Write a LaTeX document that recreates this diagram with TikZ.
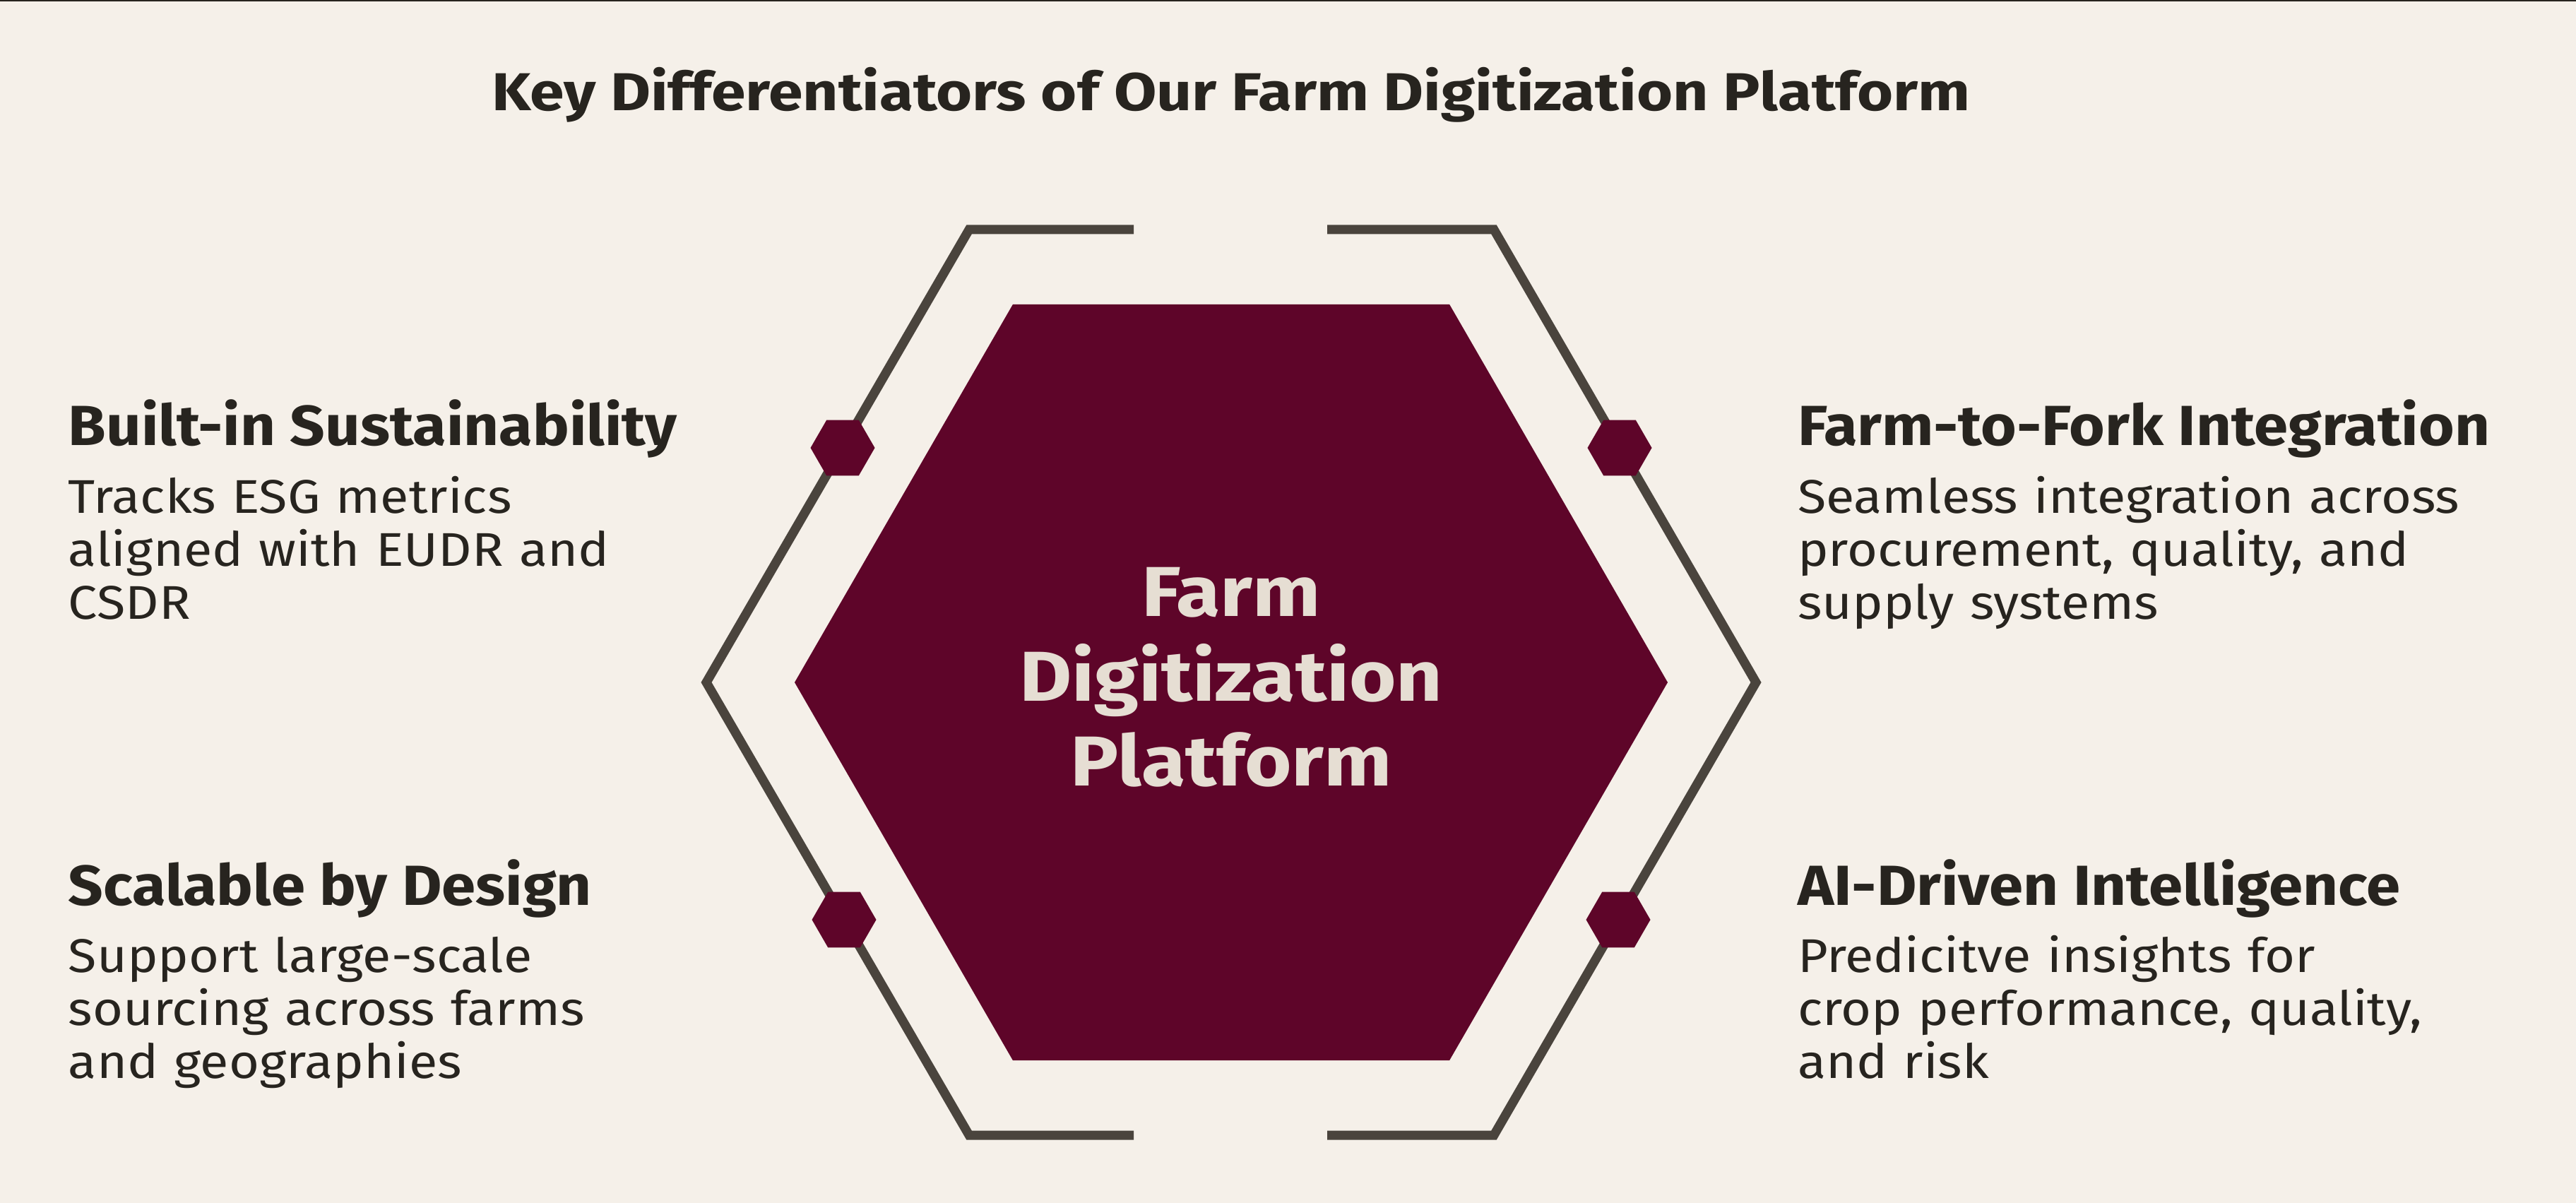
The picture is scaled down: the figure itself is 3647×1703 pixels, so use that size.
\documentclass[tikz,border=0pt]{standalone}
\usepackage{fontspec}
\setmainfont{Fira Sans}
\newfontfamily\titlefont{Fira Sans}[FakeStretch=1.16]
\newfontfamily\headfont{Fira Sans}[FakeStretch=1.085]
\newfontfamily\bodyfont{Fira Sans}[FakeStretch=1.10]
\newfontfamily\hubfont{Fira Sans}[FakeStretch=1.14]
\usetikzlibrary{shapes.geometric}

\definecolor{paper}{HTML}{F5F0E9}
\definecolor{wine}{HTML}{5E0529}
\definecolor{frameline}{HTML}{4A443D}
\definecolor{ink}{HTML}{27241F}
\definecolor{cream}{HTML}{E6DED3}

\begin{document}
\begin{tikzpicture}[x=0.2pt, y=-0.2pt,
  hexbig/.style={regular polygon, regular polygon sides=6, minimum size=247.2pt, inner sep=0pt, fill=wine},
  hexdot/.style={regular polygon, regular polygon sides=6, minimum size=18.2pt, inner sep=0pt, fill=wine},
  bracket/.style={draw=frameline, line width=2.6pt},
  headline/.style={anchor=base west, inner sep=0pt, text=ink, font=\headfont\bfseries\fontsize{16}{19}\selectfont},
  blurb/.style={anchor=base west, inner sep=0pt, text=ink, text width=240pt, align=left, font=\bodyfont\fontsize{13.4}{15}\selectfont},
  ]

\useasboundingbox (0,0) rectangle (3647,1703);
\fill[paper] (0,0) rectangle (3647,1703);
\draw[ink, line width=0.4pt] (0,1) -- (3647,1);

\node[anchor=base, inner sep=0pt, text=ink, font=\titlefont\bfseries\fontsize{15.1}{18}\selectfont] (title) at (1743,157) {Key Differentiators of Our Farm Digitization Platform};

% frame round the hub
\draw[bracket] (1605,325) -- (1372,325) -- (1000,966) -- (1372,1607) -- (1605,1607);
\draw[bracket] (1879,325) -- (2115,325) -- (2486,966) -- (2115,1607) -- (1879,1607);

\node[hexbig] (hub) at (1743,966) {};
\node[anchor=base, inner sep=0pt, text=cream, text width=150pt, align=center, font=\hubfont\bfseries\fontsize{20}{24}\selectfont] (hubtext) at (1743,872) {Farm\\Digitization\\Platform};

\node[hexdot] (dotnw) at (1193,634) {};
\node[hexdot] (dotne) at (2293,634) {};
\node[hexdot] (dotsw) at (1195,1302) {};
\node[hexdot] (dotse) at (2291,1302) {};

% the four differentiators
\node[headline] (sustain) at (96,630) {Built-in Sustainability};
\node[blurb] (sustaintext) at (96,726) {Tracks ESG metrics\\aligned with EUDR and\\CSDR};

\node[headline] (scale) at (96,1281) {Scalable by Design};
\node[blurb] (scaletext) at (96,1376) {Support large-scale\\sourcing across farms\\and geographies};

\node[headline] (fork) at (2544,630) {Farm-to-Fork Integration};
\node[blurb] (forktext) at (2544,726) {Seamless integration across\\procurement, quality, and\\supply systems};

\node[headline] (ai) at (2544,1281) {AI-Driven Intelligence};
\node[blurb] (aitext) at (2544,1376) {Predicitve insights for\\crop performance, quality,\\and risk};

\end{tikzpicture}
\end{document}
